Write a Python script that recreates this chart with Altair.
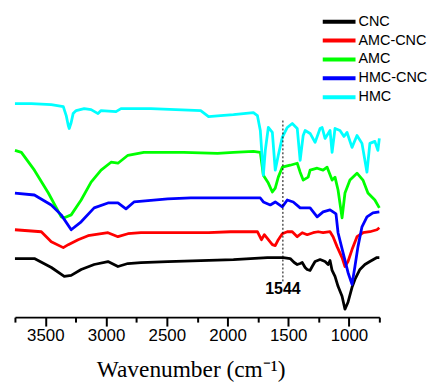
import altair as alt
import pandas as pd

series = ["CNC", "AMC-CNC", "AMC", "HMC-CNC", "HMC"]
colors = ["#000000", "#ff0000", "#00ff00", "#0000ff", "#00ffff"]

cnc_wn = [3750, 3590, 3450, 3344, 3287, 3205, 3098, 2984, 2902, 2820, 2713, 2492, 2221, 1951, 1672, 1541,
          1484, 1451, 1426, 1402, 1385, 1361, 1344, 1320, 1303, 1279, 1238, 1197, 1172, 1156, 1139, 1115,
          1090, 1057, 1033, 1008, 975, 951, 910, 869, 828, 770, 750]
cnc_t = [59, 59, 50, 41, 42, 48, 53, 56, 51, 54, 55, 56, 57, 58, 60, 60,
         59, 55, 53, 54, 55, 50, 48, 47, 51, 56, 58, 56, 53, 57, 47, 41,
         31, 21, 8, 15, 30, 38, 48, 53, 56, 60, 60]

amccnc_wn = [3750, 3533, 3451, 3352, 3311, 3230, 3148, 2984, 2902, 2820, 2713, 2385, 2156, 1975, 1754, 1721,
             1697, 1664, 1631, 1607, 1582, 1549, 1508, 1467, 1426, 1385, 1344, 1295, 1254, 1213, 1156, 1131,
             1098, 1057, 1033, 1008, 975, 934, 885, 828, 770, 750]
amccnc_t = [88, 86, 76, 70, 73, 78, 82, 85, 81, 84, 85, 85, 85, 86, 86, 78,
            83, 78, 73, 72, 78, 84, 86, 86, 81, 85, 83, 85, 86, 85, 86, 81,
            71, 60, 51, 56, 68, 81, 85, 86, 88, 90]

amc_wn = [3750, 3697, 3590, 3475, 3369, 3344, 3287, 3205, 3123, 3041, 2959, 2902, 2820, 2689, 2361, 2082,
          1951, 1787, 1730, 1705, 1664, 1631, 1607, 1582, 1549, 1484, 1426, 1402, 1377, 1336, 1320, 1262,
          1213, 1180, 1139, 1115, 1090, 1057, 1033, 992, 934, 885, 844, 787, 750]
amc_t = [168, 166, 148, 125, 101, 100, 103, 118, 136, 148, 156, 155, 163, 166, 166, 165,
         166, 167, 166, 143, 135, 126, 130, 141, 151, 153, 155, 146, 138, 141, 148, 150,
         148, 151, 138, 141, 128, 100, 125, 138, 145, 138, 125, 118, 110]

hmccnc_wn = [3750, 3590, 3451, 3369, 3287, 3205, 3098, 2984, 2902, 2836, 2770, 2492, 2303, 1951, 1730, 1705,
             1648, 1607, 1549, 1508, 1459, 1402, 1320, 1262, 1213, 1156, 1131, 1107, 1090, 1049, 1008, 975,
             951, 926, 893, 852, 803, 750]
hmccnc_t = [125, 123, 113, 103, 88, 96, 110, 115, 115, 109, 116, 119, 120, 120, 120, 116,
            113, 116, 111, 118, 116, 110, 110, 101, 106, 108, 106, 104, 85, 65, 45, 33,
            51, 71, 91, 101, 105, 106]

hmc_wn = [3750, 3615, 3451, 3352, 3328, 3311, 3303, 3287, 3271, 3246, 3180, 3123, 3066, 3041, 2918, 2877,
          2631, 2221, 2156, 2057, 1951, 1787, 1754, 1730, 1705, 1689, 1664, 1631, 1607, 1582, 1549, 1508,
          1467, 1426, 1402, 1377, 1361, 1320, 1279, 1238, 1221, 1197, 1156, 1139, 1115, 1074, 1041, 1016,
          975, 934, 893, 852, 828, 787, 762, 750]
hmc_t = [215, 215, 214, 212, 203, 193, 190, 196, 205, 208, 210, 209, 205, 208, 207, 210,
         210, 208, 202, 203, 204, 206, 203, 188, 143, 168, 191, 186, 148, 163, 181, 191,
         195, 190, 158, 183, 188, 185, 176, 190, 191, 180, 188, 166, 190, 188, 182, 186,
         171, 183, 175, 146, 175, 177, 168, 180]

major_ticks = [3500, 3000, 2500, 2000, 1500, 1000]
minor_ticks = [3750, 3250, 2750, 2250, 1750, 1250, 750]

peak_wn = [1544]
peak_top = [198]
peak_bottom = [36]
peak_label_y = [23]
peak_label = ["1544"]

rows = []
for name, wn, tv in zip(series, [cnc_wn, amccnc_wn, amc_wn, hmccnc_wn, hmc_wn],
                        [cnc_t, amccnc_t, amc_t, hmccnc_t, hmc_t]):
    for i, (w, v) in enumerate(zip(wn, tv)):
        rows.append({"series": name, "wn": w, "t": v, "order": i})
df = pd.DataFrame(rows)

peak_df = pd.DataFrame({"wn": peak_wn, "top": peak_top, "bottom": peak_bottom,
                        "ly": peak_label_y, "label": peak_label})

xscale = alt.Scale(domain=[750, 3750], reverse=True, nice=False, zero=False)
yscale = alt.Scale(domain=[0, 305], nice=False, zero=False)

major_axis = alt.Axis(
    orient="bottom",
    values=major_ticks,
    format="d",
    labelOverlap=False,
    tickSize=9,
    tickWidth=2,
    tickColor="black",
    domainColor="black",
    domainWidth=2,
    labelFont="Liberation Sans",
    labelFontSize=17,
    labelColor="black",
    labelPadding=2,
    grid=False,
    title="Wavenumber (cm\u207b\u00b9)",
    titleFont="Liberation Serif",
    titleFontSize=23.5,
    titleFontWeight="normal",
    titleColor="black",
    titleX=177,
    titleY=60,
    titleAlign="center",
    titleBaseline="alphabetic",
)

minor_axis = alt.Axis(
    orient="bottom",
    values=minor_ticks,
    labels=False,
    domain=False,
    grid=False,
    tickSize=5,
    tickWidth=2,
    tickColor="black",
    title=None,
)

lines = alt.Chart(df).mark_line(strokeWidth=2.8, strokeJoin="round").encode(
    x=alt.X("wn:Q", scale=xscale, axis=major_axis),
    y=alt.Y("t:Q", scale=yscale, axis=None),
    color=alt.Color(
        "series:N",
        scale=alt.Scale(domain=series, range=colors),
        legend=alt.Legend(
            title=None,
            orient="none",
            legendX=319,
            legendY=0,
            padding=0,
            symbolType="M-3,0H3",
            symbolSize=121,
            symbolStrokeWidth=4,
            labelFont="Liberation Sans",
            labelFontSize=14.5,
            labelColor="black",
            labelOffset=12,
            rowPadding=2,
        ),
    ),
    order=alt.Order("order:Q"),
)

rule = alt.Chart(peak_df).mark_rule(color="black", strokeDash=[2, 2], strokeWidth=1).encode(
    x=alt.X("wn:Q", scale=xscale, axis=minor_axis),
    y=alt.Y("top:Q", scale=yscale, axis=None),
    y2="bottom:Q",
)

label = alt.Chart(peak_df).mark_text(
    font="Liberation Sans", fontSize=16, fontWeight="bold", color="black", baseline="alphabetic", align="center"
).encode(
    x=alt.X("wn:Q", scale=xscale, axis=None),
    y=alt.Y("ly:Q", scale=yscale, axis=None),
    text="label:N",
)

chart = alt.layer(lines, rule, label).resolve_axis(x="independent").properties(
    width=367, height=305,
    padding={"left": 5, "top": 5, "right": 0, "bottom": 0},
    background="white",
).configure_view(stroke=None)

chart.save("out.html", embed_options={"renderer": "svg", "actions": False})
